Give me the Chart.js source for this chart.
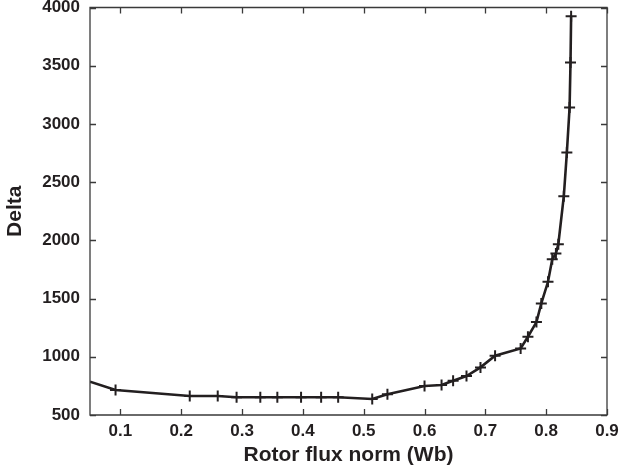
<!DOCTYPE html>
<html>
<head>
<meta charset="utf-8">
<script src="https://cdn.jsdelivr.net/npm/chart.js@4/dist/chart.umd.min.js"></script>
<style>
  html, body { margin: 0; padding: 0; background: #ffffff; }
  #wrap { width: 621px; height: 476px; position: relative; }
</style>
</head>
<body>
<div id="wrap"><canvas id="c" width="621" height="476"></canvas></div>
<script>
// Data
const fluxNorm = [0.05, 0.092, 0.214, 0.260, 0.291, 0.330, 0.358, 0.397, 0.430, 0.458, 0.514, 0.539, 0.600, 0.628, 0.647, 0.669, 0.692, 0.716, 0.758, 0.770, 0.784, 0.792, 0.803, 0.810, 0.816, 0.820, 0.829, 0.834, 0.8385, 0.840, 0.841];
const deltaValues = [786, 714, 663, 663, 652, 652, 652, 652, 652, 652, 637, 678, 749, 757, 794, 835, 909, 1009, 1072, 1172, 1298, 1458, 1644, 1838, 1887, 1967, 2379, 2754, 3142, 3528, 3925];
const xTickValues = [0.1, 0.2, 0.3, 0.4, 0.5, 0.6, 0.7, 0.8, 0.9];
const yTickValues = [500, 1000, 1500, 2000, 2500, 3000, 3500, 4000];
const xTitle = 'Rotor flux norm (Wb)';
const yTitle = 'Delta';

const ink = '#231f20';
const fontFamily = '"Liberation Sans", Arial, Helvetica, sans-serif';

const framePlugin = {
  id: 'frame',
  afterDatasetsDraw(chart) {
    const { ctx, chartArea: a, scales } = chart;
    const len = 6;
    ctx.save();
    ctx.strokeStyle = '#3a3a3a';
    ctx.lineWidth = 1.3;
    ctx.beginPath();
    ctx.rect(a.left, a.top, a.right - a.left, a.bottom - a.top);
    scales.x.ticks.forEach(t => {
      const px = Math.round(scales.x.getPixelForValue(t.value)) + 0.5;
      ctx.moveTo(px, a.bottom); ctx.lineTo(px, a.bottom - len);
      ctx.moveTo(px, a.top); ctx.lineTo(px, a.top + len);
    });
    scales.y.ticks.forEach(t => {
      const py = Math.round(scales.y.getPixelForValue(t.value)) + 0.5;
      ctx.moveTo(a.left, py); ctx.lineTo(a.left + len, py);
      ctx.moveTo(a.right, py); ctx.lineTo(a.right - len, py);
    });
    ctx.stroke();
    ctx.restore();
  }
};

new Chart(document.getElementById('c'), {
  type: 'line',
  data: {
    datasets: [{
      data: fluxNorm.map((x, i) => ({ x: x, y: deltaValues[i] })),
      borderColor: ink,
      backgroundColor: ink,
      borderWidth: 2.6,
      pointStyle: 'cross',
      pointRadius: fluxNorm.map((x, i) => i === 0 ? 0 : 5.5),
      pointBorderWidth: 2,
      pointBorderColor: ink,
      tension: 0,
      fill: false
    }]
  },
  options: {
    responsive: false,
    animation: false,
    devicePixelRatio: 1,
    layout: { padding: { top: 7, right: 14, left: 0, bottom: 0 } },
    plugins: { legend: { display: false }, tooltip: { enabled: false } },
    scales: {
      x: {
        type: 'linear',
        min: 0.05,
        max: 0.9,
        afterBuildTicks: s => { s.ticks = xTickValues.map(v => ({ value: v })); },
        afterFit: s => { s.height = 61; s.paddingLeft = 0; s.paddingRight = 0; },
        grid: { display: false, drawTicks: false },
        border: { display: false },
        ticks: {
          padding: 6,
          color: ink,
          font: { family: fontFamily, size: 17, weight: 'bold' },
          callback: v => v.toFixed(1),
          maxRotation: 0
        },
        title: {
          display: true,
          text: xTitle,
          color: ink,
          font: { family: fontFamily, size: 21, weight: 'bold' },
          padding: { top: 0, bottom: 8 }
        }
      },
      y: {
        type: 'linear',
        min: 500,
        max: 4000,
        afterBuildTicks: s => { s.ticks = yTickValues.map(v => ({ value: v })); },
        afterFit: s => { s.width = 90; s.paddingTop = 0; s.paddingBottom = 0; },
        grid: { display: false, drawTicks: false },
        border: { display: false },
        ticks: {
          padding: 10,
          color: ink,
          font: { family: fontFamily, size: 17, weight: 'bold' },
          callback: v => String(v)
        },
        title: {
          display: true,
          text: yTitle,
          color: ink,
          font: { family: fontFamily, size: 21, weight: 'bold' },
          padding: { top: 3, bottom: 0 }
        }
      }
    }
  },
  plugins: [framePlugin]
});
</script>
</body>
</html>
